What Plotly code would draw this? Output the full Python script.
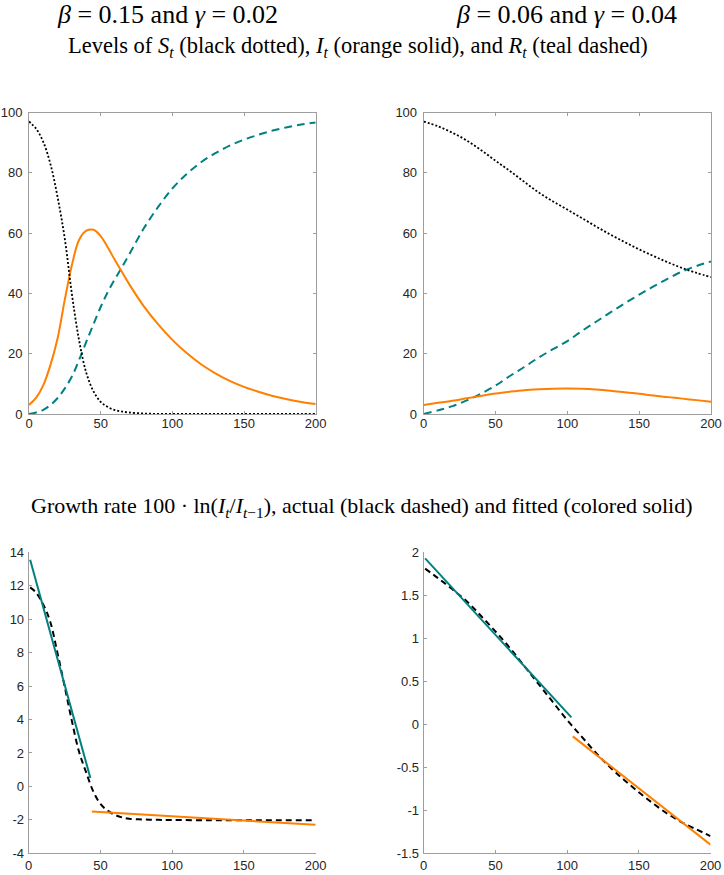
"""
SIR model levels and growth rates for two parameter settings.
2x2 panels: levels of S, I, R on top, growth rate of I (actual vs fitted) below.
"""

import plotly.graph_objects as go

# ── Data ────────────────────────────────────────────────────────────────
# panel A: beta = 0.15, gamma = 0.02
t_a = [0, 5, 10, 15, 20, 25, 30, 35, 40, 45, 50, 55, 60, 65, 70, 80, 90, 100,
       110, 120, 130, 140, 150, 160, 170, 180, 190, 200]
s_a = [97.0, 94.6, 90.2, 82.8, 71.8, 58.0, 39.5, 24.3, 13.6, 7.5, 4.0, 2.3, 1.3,
       0.8, 0.5, 0.15, 0.05, 0.02, 0.01, 0, 0, 0, 0, 0, 0, 0, 0, 0]
i_a = [3.0, 5.4, 9.6, 16.3, 25.2, 38.0, 49.6, 57.8, 60.8, 61.1, 59.0, 55.2, 51.0,
       47.0, 43.0, 35.8, 29.8, 24.6, 20.2, 16.5, 13.5, 11.0, 9.0, 7.4, 6.0, 4.9,
       4.0, 3.3]
r_a = [0.0, 0.5, 1.4, 3.0, 5.3, 8.5, 12.5, 18.0, 24.0, 29.8, 35.5, 40.5, 44.8,
       48.8, 53.0, 61.5, 68.6, 74.8, 79.6, 83.5, 86.5, 89.0, 91.0, 92.6, 94.0,
       95.1, 96.0, 96.7]

# panel B: beta = 0.06, gamma = 0.04
t_b = [0, 10, 20, 30, 40, 50, 60, 70, 80, 90, 100, 110, 120, 130, 140, 150,
       160, 170, 180, 190, 200]
s_b = [97.0, 95.4, 93.3, 90.7, 87.5, 84.0, 80.6, 77.0, 73.5, 70.5, 67.8, 65.0,
       62.2, 59.5, 57.0, 54.6, 52.4, 50.3, 48.4, 46.8, 45.4]
i_b = [3.0, 3.7, 4.4, 5.2, 6.0, 6.8, 7.4, 7.9, 8.2, 8.4, 8.45, 8.35, 8.1, 7.7,
       7.2, 6.7, 6.1, 5.6, 5.1, 4.6, 4.1]
r_b = [0.0, 1.2, 2.6, 4.5, 6.8, 9.4, 12.6, 15.6, 18.7, 21.5, 24.2, 27.5, 30.6,
       33.7, 36.7, 39.6, 42.3, 44.9, 47.3, 49.1, 50.6]

# growth rate 100*ln(I_t/I_{t-1}), panel A
tg_a = [1, 5, 10, 15, 20, 25, 30, 35, 40, 45, 50, 55, 60, 65, 70, 80, 90, 100,
        125, 150, 175, 200]
g_a = [11.9, 11.6, 10.9, 9.85, 8.0, 6.0, 3.95, 2.1, 0.85, -0.3, -1.05, -1.45,
       -1.7, -1.85, -1.93, -1.98, -2.0, -2.01, -2.02, -2.02, -2.02, -2.02]
fit1_t_a, fit1_g_a = [1, 43], [13.55, 0.5]
fit2_t_a, fit2_g_a = [44, 200], [-1.5, -2.3]

# growth rate, panel B
tg_b = [1, 10, 20, 30, 40, 50, 60, 70, 80, 90, 100, 110, 120, 130, 140, 150,
        160, 170, 180, 190, 200]
g_b = [1.81, 1.70, 1.57, 1.43, 1.26, 1.08, 0.89, 0.68, 0.47, 0.26, 0.05, -0.14,
       -0.33, -0.50, -0.65, -0.79, -0.92, -1.04, -1.14, -1.22, -1.30]
fit1_t_b, fit1_g_b = [1, 103], [1.93, 0.08]
fit2_t_b, fit2_g_b = [104, 200], [-0.14, -1.40]

ORANGE = "#ff7f00"
TEAL = "#008080"
W, H = 724, 875

fig = go.Figure()

# ── Levels ─────────────────────────────────────────────────────────────
for t, s, i, r, ax in [(t_a, s_a, i_a, r_a, "1"), (t_b, s_b, i_b, r_b, "2")]:
    xa, ya = "x" + ax, "y" + ax
    fig.add_trace(go.Scatter(x=t, y=r, mode="lines", xaxis=xa, yaxis=ya,
                             line=dict(color=TEAL, width=2, dash="8px,5px", shape="spline")))
    fig.add_trace(go.Scatter(x=t, y=i, mode="lines", xaxis=xa, yaxis=ya,
                             line=dict(color=ORANGE, width=2, shape="spline")))
    fig.add_trace(go.Scatter(x=t, y=s, mode="lines", xaxis=xa, yaxis=ya,
                             line=dict(color="black", width=1.8, dash="2px,2px", shape="spline")))

# ── Growth rates ───────────────────────────────────────────────────────
for tg, g, f1t, f1g, f2t, f2g, ax in [
    (tg_a, g_a, fit1_t_a, fit1_g_a, fit2_t_a, fit2_g_a, "3"),
    (tg_b, g_b, fit1_t_b, fit1_g_b, fit2_t_b, fit2_g_b, "4"),
]:
    xa, ya = "x" + ax, "y" + ax
    fig.add_trace(go.Scatter(x=tg, y=g, mode="lines", xaxis=xa, yaxis=ya,
                             line=dict(color="black", width=2, dash="6px,4px", shape="spline")))
    fig.add_trace(go.Scatter(x=f1t, y=f1g, mode="lines", xaxis=xa, yaxis=ya,
                             line=dict(color=TEAL, width=2)))
    fig.add_trace(go.Scatter(x=f2t, y=f2g, mode="lines", xaxis=xa, yaxis=ya,
                             line=dict(color=ORANGE, width=2)))

# ── Axes ───────────────────────────────────────────────────────────────
def px_x(a, b):
    return [a / W, b / W]


def px_y(top, bottom):
    return [1 - bottom / H, 1 - top / H]


tickfont = dict(family="Liberation Sans, Arial", size=13, color="#262626")
common = dict(showgrid=False, zeroline=False, showline=True, linecolor="#9e9e9e",
              linewidth=1, ticks="inside", ticklen=3, tickcolor="#9e9e9e",
              tickfont=tickfont)


def fmt(v):
    return "%g" % v


ticks_lev = [0, 20, 40, 60, 80, 100]
ticks_ga = [-4, -2, 0, 2, 4, 6, 8, 10, 12, 14]
ticks_gb = [-1.5, -1, -0.5, 0, 0.5, 1, 1.5, 2]
ticks_t = [0, 50, 100, 150, 200]

panels = {
    "1": (px_x(29, 315.7), px_y(112.5, 414), [0, 100], ticks_lev, True),
    "2": (px_x(423.7, 711), px_y(112.5, 414), [0, 100], ticks_lev, True),
    "3": (px_x(28.7, 315.7), px_y(552.3, 853.3), [-4, 14], ticks_ga, False),
    "4": (px_x(423.7, 710.5), px_y(552.3, 853.3), [-1.5, 2], ticks_gb, False),
}
for k, (dx, dy, yr, yt, box) in panels.items():
    mir = "ticks" if box else False
    fig.update_layout({
        ("xaxis" if k == "1" else "xaxis" + k): dict(
            common, domain=dx, range=[0, 200], anchor="y" + k, mirror=mir,
            tickvals=ticks_t, ticktext=[fmt(v) for v in ticks_t],
            ticklabelstandoff=-3 if box else 0, ticklabeloverflow="allow"),
        ("yaxis" if k == "1" else "yaxis" + k): dict(
            common, domain=dy, range=yr, anchor="x" + k, mirror=mir,
            tickvals=yt, ticktext=[fmt(v) for v in yt],
            ticklabelstandoff=3 if box else 1, ticklabeloverflow="allow"),
    })

# ── Titles ─────────────────────────────────────────────────────────────
serif = "Liberation Serif"


def note(text, x, y, size):
    fig.add_annotation(text=text, x=x / W, y=1 - y / H,
                       xref="paper", yref="paper",
                       xanchor="center", yanchor="middle", showarrow=False,
                       font=dict(family=serif, size=size, color="black"))


note("<i>β</i> = 0.15 and <i>γ</i> = 0.02", 167, 15, 26)
note("<i>β</i> = 0.06 and <i>γ</i> = 0.04", 566, 15, 26)
note("Levels of <i>S</i><sub><i>t</i></sub> (black dotted), <i>I</i><sub><i>t</i></sub> "
     "(orange solid), and <i>R</i><sub><i>t</i></sub> (teal dashed)", 358, 47, 22.5)
note("Growth rate 100 · ln(<i>I</i><sub><i>t</i></sub>/<i>I</i><sub><i>t</i>−1</sub>), "
     "actual (black dashed) and fitted (colored solid)", 362, 507, 22)

fig.update_layout(
    template="none",
    width=W, height=H,
    margin=dict(l=0, r=0, t=0, b=0),
    paper_bgcolor="white", plot_bgcolor="white",
    showlegend=False,
)

# drop the browser's default body margin so the figure fills the window
fig.write_html(
    "out.html",
    config={"displayModeBar": False},
    post_script="document.body.style.margin='0';"
                "document.documentElement.style.overflow='hidden';",
)
